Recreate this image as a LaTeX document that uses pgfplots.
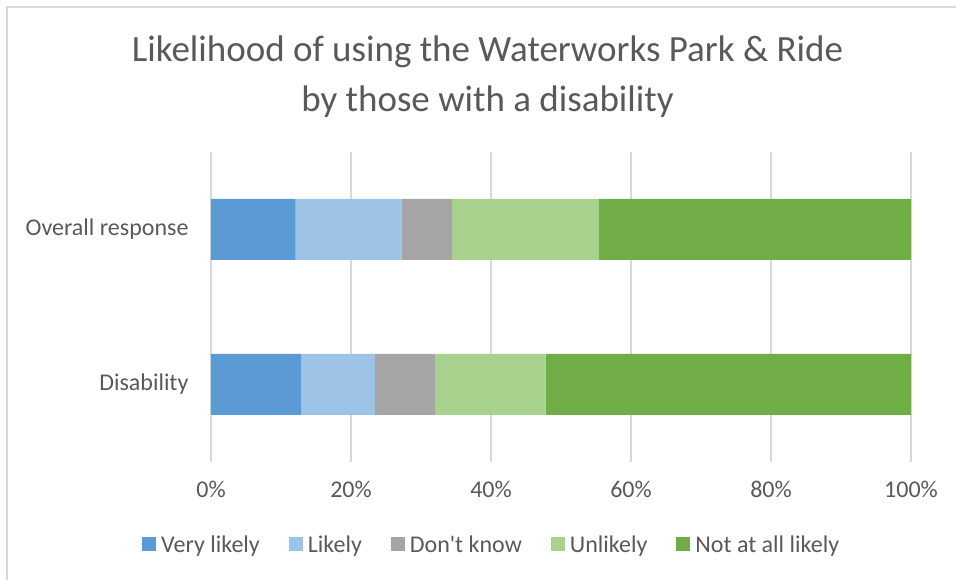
\documentclass[border=0pt]{standalone}
\usepackage{pgfplots}
\pgfplotsset{compat=1.18}
\usepackage{fontspec}
\setmainfont{Carlito}
\definecolor{c1}{HTML}{5B9BD5}
\definecolor{c2}{HTML}{9DC3E6}
\definecolor{c3}{HTML}{A5A5A5}
\definecolor{c4}{HTML}{A9D18E}
\definecolor{c5}{HTML}{70AD47}
\definecolor{txt}{HTML}{595959}
\definecolor{gridc}{HTML}{D9D9D9}
\begin{document}
\begin{tikzpicture}[x=1pt,y=1pt]
\path[use as bounding box] (0,0) rectangle (956,580);
\draw[gridc, line width=1.5pt] (7,0) -- (7,573) -- (956,573);
\node[txt, font=\fontsize{37}{50}\selectfont, align=center] at (487.5,503) {Likelihood of using the Waterworks Park \& Ride\\by those with a disability};
\begin{axis}[
  at={(211pt,118pt)}, anchor=south west,
  scale only axis, width=700pt, height=310pt,
  xbar stacked, bar width=61pt,
  xmin=0, xmax=100, ymin=-0.5, ymax=1.5,
  ytick={0,1}, yticklabels={Disability,Overall response},
  xtick={0,20,40,60,80,100},
  xticklabel={\pgfmathprintnumber{\tick}\%},
  /pgf/number format/assume math mode=true,
  xmajorgrids, grid style={gridc, line width=1.2pt},
  axis line style={draw=none},
  axis x line*=bottom, axis y line*=left,
  x axis line style={draw=none},
  y axis line style={gridc, line width=1.2pt},
  major tick length=0pt,
  tick label style={txt, font=\fontsize{24}{28}\selectfont},
  xticklabel style={yshift=-16pt},
  yticklabel style={xshift=-19pt},
  legend style={at={(0.401,-0.268)}, anchor=center, draw=none, fill=none,
    legend columns=5, font=\fontsize{24}{28}\selectfont, text=txt,
    /tikz/every even column/.append style={column sep=27pt}},
  legend image code/.code={\fill[#1] (0pt,-6pt) rectangle (14pt,8pt); \path (0pt,0pt) -- (17pt,0pt);},
  every axis plot/.append style={draw=none},
]
\addplot[fill=c1] coordinates {(12.9,0) (12.1,1)};
\addplot[fill=c2] coordinates {(10.5,0) (15.1,1)};
\addplot[fill=c3] coordinates {(8.7,0) (7.2,1)};
\addplot[fill=c4] coordinates {(15.7,0) (21.0,1)};
\addplot[fill=c5] coordinates {(52.2,0) (44.6,1)};
\legend{Very likely, Likely, Don\textquotesingle t know, Unlikely, Not at all likely}
\end{axis}
\end{tikzpicture}
\end{document}
